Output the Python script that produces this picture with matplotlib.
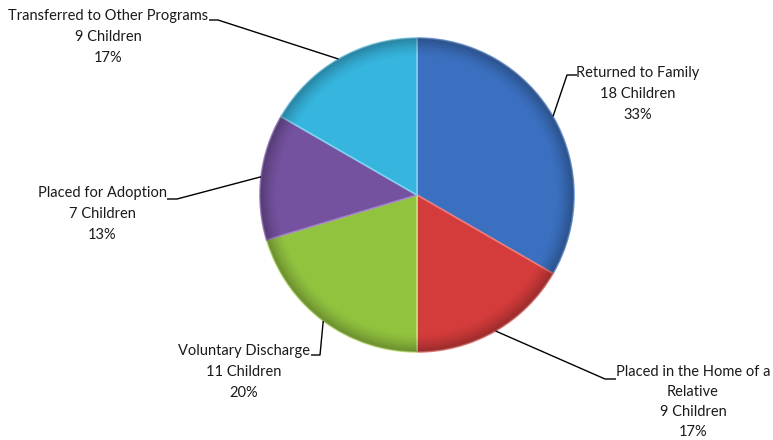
import numpy as np
import matplotlib
matplotlib.use("Agg")
import matplotlib.pyplot as plt
from matplotlib.patches import Circle

categories = ["Returned to Family", "Placed in the Home of a\nRelative",
              "Voluntary Discharge", "Placed for Adoption",
              "Transferred to Other Programs"]
children = [18, 9, 11, 7, 9]
colors = ["#3b70c0", "#d43b3b", "#92c33f", "#7552a0", "#36b5de"]
edge_colors = ["#6f9ad8", "#ec7a7a", "#c3e67c", "#a184c6", "#7fd3ef"]

W, H = 773, 440
fig = plt.figure(figsize=(W / 100, H / 100), dpi=100)
ax = fig.add_axes([0, 0, 1, 1])

cx, cy, R = 417, H - 195, 157
wedges, _ = ax.pie(children, colors=colors, startangle=90, counterclock=False,
                   center=(cx, cy), radius=R, frame=True,
                   wedgeprops=dict(linewidth=1.2))
for w, ec in zip(wedges, edge_colors):
    w.set_edgecolor(ec)

# subtle rim shading (bevel look)
n = 400
xs = np.linspace(cx - R, cx + R, n)
ys = np.linspace(cy - R, cy + R, n)
X, Y = np.meshgrid(xs, ys)
r = np.hypot(X - cx, Y - cy) / R
alpha = np.clip((r - 0.88) / 0.12, 0, 1) ** 1.5 * 0.28
rgba = np.zeros((n, n, 4))
rgba[..., 3] = alpha
im = ax.imshow(rgba, extent=(cx - R, cx + R, cy - R, cy + R), origin="lower",
               zorder=3, interpolation="bilinear")
clip = Circle((cx, cy), R, transform=ax.transData)
im.set_clip_path(clip)

ax.set_xlim(0, W)
ax.set_ylim(0, H)
ax.set_aspect("equal")
ax.axis("off")

# label layout: (text centre x, text centre y (px from top), stub start, stub end)
layout = [
    (638, 94, (577, 75), (567, 75)),
    (693, 402, (616, 379), (605, 379)),
    (244, 372, (311, 355), (320, 355)),
    (102, 214, (167, 199), (177, 199)),
    (108, 37, (209, 20), (218, 20)),
]
spacing = [1.62, 1.55, 1.62, 1.62, 1.62]

total = sum(children)
for w, cat, n_, (tx, ty, s0, s1), ls in zip(wedges, categories, children, layout, spacing):
    mid = np.deg2rad((w.theta1 + w.theta2) / 2)
    ex, ey = cx + R * np.cos(mid), cy + R * np.sin(mid)
    ax.plot([s0[0], s1[0], ex], [H - s0[1], H - s1[1], ey], color="black",
            lw=1.0, solid_capstyle="butt", zorder=5)
    pct = round(100 * n_ / total)
    ax.text(tx, H - ty, f"{cat}\n{n_} Children\n{pct}%", ha="center", va="center",
            fontsize=10.5, family=["Lato", "DejaVu Sans"], color="#1a1a1a",
            linespacing=ls)

fig.savefig("out.png", dpi=100)
